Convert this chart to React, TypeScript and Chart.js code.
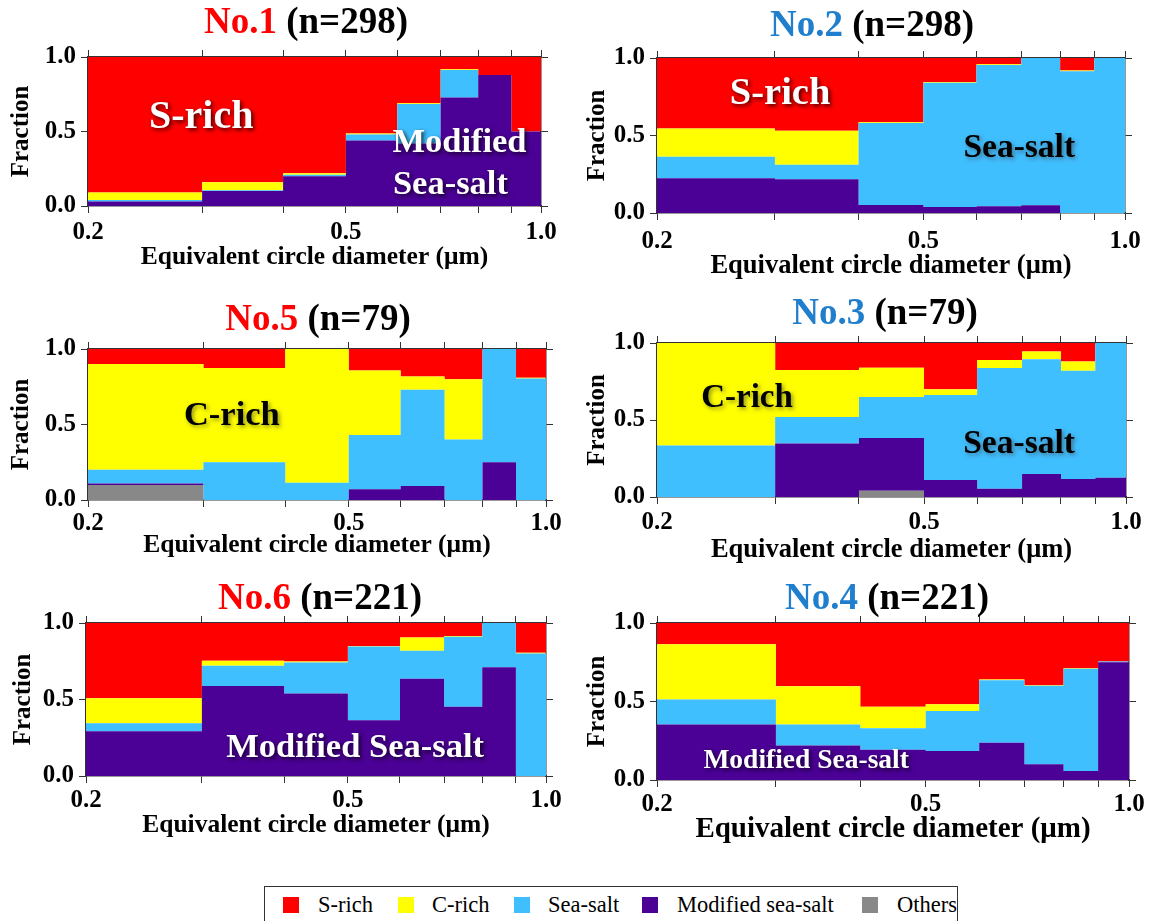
import React, { useEffect, useRef } from 'react';
import { Chart, registerables } from 'chart.js';
Chart.register(...registerables);

const SERIF = "'Liberation Serif', 'Times New Roman', serif";

const BIN_EDGES = [0.2, 0.3, 0.4, 0.5, 0.6, 0.7, 0.8, 0.9, 1.0];
const X_LABELED = [0.2, 0.5, 1.0];
const Y_TICKS = [0, 0.5, 1.0];

// stacking order, bottom to top
const CLASS_NAMES = ['Others', 'Modified sea-salt', 'Sea-salt', 'C-rich', 'S-rich'];
const CLASS_COLORS = ['#888888', '#4B0096', '#40BFFF', '#FFFF00', '#FF0000'];
const LEGEND_ORDER = [4, 3, 2, 1, 0];

// No.1 (n=298)
const NO1_OTHERS = [0, 0, 0, 0, 0, 0, 0, 0];
const NO1_MODIFIED = [0.03, 0.10, 0.20, 0.44, 0.42, 0.728, 0.88, 0.50];
const NO1_SEASALT = [0.01, 0.005, 0.01, 0.04, 0.264, 0.185, 0, 0];
const NO1_CRICH = [0.05, 0.055, 0.01, 0.006, 0.006, 0.005, 0, 0];
const NO1_SRICH = [0.91, 0.84, 0.78, 0.514, 0.31, 0.082, 0.12, 0.50];

// No.2 (n=298)
const NO2_OTHERS = [0, 0, 0, 0, 0, 0, 0, 0];
const NO2_MODIFIED = [0.224, 0.218, 0.051, 0.038, 0.043, 0.05, 0, 0];
const NO2_SEASALT = [0.139, 0.094, 0.529, 0.802, 0.912, 0.95, 0.915, 1.0];
const NO2_CRICH = [0.182, 0.218, 0.005, 0.005, 0.005, 0, 0.005, 0];
const NO2_SRICH = [0.455, 0.47, 0.415, 0.155, 0.04, 0, 0.08, 0];

// No.5 (n=79)
const NO5_OTHERS = [0.10, 0, 0, 0, 0, 0, 0, 0];
const NO5_MODIFIED = [0.01, 0, 0, 0.072, 0.092, 0, 0.25, 0];
const NO5_SEASALT = [0.09, 0.25, 0.114, 0.358, 0.638, 0.40, 0.75, 0.805];
const NO5_CRICH = [0.70, 0.625, 0.886, 0.427, 0.088, 0.40, 0, 0.005];
const NO5_SRICH = [0.10, 0.125, 0, 0.143, 0.182, 0.20, 0, 0.19];

// No.3 (n=79)
const NO3_OTHERS = [0, 0, 0.04, 0, 0, 0, 0, 0];
const NO3_MODIFIED = [0, 0.347, 0.343, 0.11, 0.053, 0.149, 0.117, 0.125];
const NO3_SEASALT = [0.334, 0.173, 0.267, 0.552, 0.785, 0.745, 0.703, 0.875];
const NO3_CRICH = [0.666, 0.305, 0.19, 0.038, 0.052, 0.051, 0.06, 0];
const NO3_SRICH = [0, 0.175, 0.16, 0.30, 0.11, 0.055, 0.12, 0];

// No.6 (n=221)
const NO6_OTHERS = [0, 0, 0, 0, 0, 0, 0, 0];
const NO6_MODIFIED = [0.293, 0.589, 0.54, 0.365, 0.635, 0.453, 0.711, 0];
const NO6_SEASALT = [0.051, 0.131, 0.202, 0.482, 0.183, 0.457, 0.289, 0.80];
const NO6_CRICH = [0.164, 0.033, 0.006, 0.003, 0.088, 0.005, 0, 0.005];
const NO6_SRICH = [0.492, 0.247, 0.252, 0.15, 0.094, 0.085, 0, 0.195];

// No.4 (n=221)
const NO4_OTHERS = [0, 0, 0, 0, 0, 0, 0, 0];
const NO4_MODIFIED = [0.354, 0.22, 0.193, 0.184, 0.237, 0.10, 0.057, 0.75];
const NO4_SEASALT = [0.159, 0.134, 0.137, 0.256, 0.399, 0.50, 0.651, 0.005];
const NO4_CRICH = [0.351, 0.243, 0.136, 0.043, 0.004, 0.003, 0.004, 0];
const NO4_SRICH = [0.136, 0.403, 0.534, 0.517, 0.36, 0.397, 0.288, 0.245];

const RED = '#FF0000';
const BLUE = '#1F7FCC';
const WHITE = '#FFFFFF';
const BLACK = '#000000';

type Note = { text: string; fx: number; fy: number; size: number; color: string };
type PanelCfg = {
  id: string; n: string; idColor: string;
  series: number[][];
  plot: { l: number; r: number; t: number; b: number };
  titleX: number; titleY: number; titleSize: number;
  fracX: number; fracSize: number;
  tickSize: number; tickPad: number;
  axisTitleY: number; axisSize: number;
  notes: Note[];
};

const PANELS: PanelCfg[] = [
  {
    id: 'No.1', n: '(n=298)', idColor: RED,
    series: [NO1_OTHERS, NO1_MODIFIED, NO1_SEASALT, NO1_CRICH, NO1_SRICH],
    plot: { l: 88, r: 541, t: 57, b: 206 },
    titleX: 306, titleY: 21, titleSize: 37,
    fracX: 22, fracSize: 25, tickSize: 25, tickPad: 5,
    axisTitleY: 258, axisSize: 25.5,
    notes: [
      { text: 'S-rich', fx: 0.25, fy: 0.41, size: 40, color: WHITE },
      { text: 'Modified', fx: 0.82, fy: 0.58, size: 34.5, color: WHITE },
      { text: 'Sea-salt', fx: 0.80, fy: 0.86, size: 34.5, color: WHITE },
    ],
  },
  {
    id: 'No.2', n: '(n=298)', idColor: BLUE,
    series: [NO2_OTHERS, NO2_MODIFIED, NO2_SEASALT, NO2_CRICH, NO2_SRICH],
    plot: { l: 657, r: 1125, t: 58, b: 213 },
    titleX: 872, titleY: 24, titleSize: 37,
    fracX: 598, fracSize: 25, tickSize: 25, tickPad: 7,
    axisTitleY: 266, axisSize: 26.5,
    notes: [
      { text: 'S-rich', fx: 0.263, fy: 0.23, size: 38.5, color: WHITE },
      { text: 'Sea-salt', fx: 0.774, fy: 0.58, size: 33.5, color: BLACK },
    ],
  },
  {
    id: 'No.5', n: '(n=79)', idColor: RED,
    series: [NO5_OTHERS, NO5_MODIFIED, NO5_SEASALT, NO5_CRICH, NO5_SRICH],
    plot: { l: 88, r: 546, t: 349, b: 500 },
    titleX: 318, titleY: 318, titleSize: 37,
    fracX: 22, fracSize: 25, tickSize: 25, tickPad: 2,
    axisTitleY: 546, axisSize: 25.5,
    notes: [
      { text: 'C-rich', fx: 0.314, fy: 0.445, size: 34.5, color: BLACK },
    ],
  },
  {
    id: 'No.3', n: '(n=79)', idColor: BLUE,
    series: [NO3_OTHERS, NO3_MODIFIED, NO3_SEASALT, NO3_CRICH, NO3_SRICH],
    plot: { l: 657, r: 1126, t: 343, b: 497 },
    titleX: 885, titleY: 312, titleSize: 37,
    fracX: 598, fracSize: 25, tickSize: 25, tickPad: 4,
    axisTitleY: 550, axisSize: 26.5,
    notes: [
      { text: 'C-rich', fx: 0.192, fy: 0.36, size: 33, color: BLACK },
      { text: 'Sea-salt', fx: 0.772, fy: 0.655, size: 33.5, color: BLACK },
    ],
  },
  {
    id: 'No.6', n: '(n=221)', idColor: RED,
    series: [NO6_OTHERS, NO6_MODIFIED, NO6_SEASALT, NO6_CRICH, NO6_SRICH],
    plot: { l: 86, r: 546, t: 623, b: 776 },
    titleX: 320, titleY: 597, titleSize: 37,
    fracX: 24, fracSize: 25, tickSize: 25, tickPad: 3,
    axisTitleY: 826, axisSize: 25.5,
    notes: [
      { text: 'Modified Sea-salt', fx: 0.585, fy: 0.82, size: 34.5, color: WHITE },
    ],
  },
  {
    id: 'No.4', n: '(n=221)', idColor: BLUE,
    series: [NO4_OTHERS, NO4_MODIFIED, NO4_SEASALT, NO4_CRICH, NO4_SRICH],
    plot: { l: 657, r: 1129, t: 623, b: 780 },
    titleX: 887, titleY: 597, titleSize: 37,
    fracX: 598, fracSize: 25, tickSize: 25, tickPad: 3,
    axisTitleY: 830, axisSize: 29,
    notes: [
      { text: 'Modified Sea-salt', fx: 0.316, fy: 0.88, size: 27.5, color: WHITE },
    ],
  },
];

const YW = 80;   // left axis box width
const YR = 24;   // right axis box width
const XT = 20;   // top axis box height
const FRAME = '#333333';

function Panel({ p }: { p: PanelCfg }) {
  const ref = useRef<HTMLCanvasElement | null>(null);
  const axLh = p.axisSize * 1.2;
  const XB = Math.round(p.axisTitleY - p.plot.b + axLh / 2 + 2);
  const width = p.plot.r - p.plot.l + YW + YR;
  const height = p.plot.b - p.plot.t + XT + XB;
  const left = p.plot.l - YW;
  const top = p.plot.t - XT;

  useEffect(() => {
    if (!ref.current) return;
    const datasets = CLASS_NAMES.map((name, k) => ({
      label: name,
      data: BIN_EDGES.map((x, i) => ({ x, y: p.series[k][Math.min(i, p.series[k].length - 1)] })),
      backgroundColor: CLASS_COLORS[k],
      borderColor: CLASS_COLORS[k],
      borderWidth: 0,
      pointRadius: 0,
      pointHoverRadius: 0,
      stepped: true,
      fill: k === 0 ? 'origin' : '-1',
      xAxisID: 'x',
      yAxisID: 'y',
    }));

    const notesPlugin = {
      id: 'notes',
      afterDatasetsDraw(chart: any) {
        const { ctx, chartArea: a } = chart;
        ctx.save();
        for (const n of p.notes) {
          const x = a.left + n.fx * (a.right - a.left);
          const y = a.top + n.fy * (a.bottom - a.top);
          ctx.font = `bold ${n.size}px ${SERIF}`;
          ctx.textAlign = 'center';
          ctx.textBaseline = 'middle';
          ctx.shadowColor = n.color === WHITE ? 'rgba(0,0,0,0.75)' : 'rgba(60,60,60,0.55)';
          ctx.shadowBlur = 4;
          ctx.shadowOffsetX = 2;
          ctx.shadowOffsetY = 2;
          ctx.fillStyle = n.color;
          ctx.fillText(n.text, x, y);
        }
        ctx.restore();
      },
    };

    const tickFont = { family: SERIF, size: p.tickSize, weight: 'bold' as const };
    const grid = { drawOnChartArea: false, drawTicks: true, tickLength: 7, color: FRAME, lineWidth: 1 };
    const border = { display: true, color: FRAME, width: 1.5 };
    const xTicks = (s: any) => { s.ticks = BIN_EDGES.map((v) => ({ value: v })); };
    const yTicks = (s: any) => { s.ticks = Y_TICKS.map((v) => ({ value: v })); };
    const fracLh = p.fracSize * 1.2;

    const chart = new Chart(ref.current, {
      type: 'line',
      data: { datasets } as any,
      options: {
        animation: false,
        responsive: false,
        devicePixelRatio: 1,
        layout: { padding: 0 },
        events: [],
        plugins: {
          legend: { display: false },
          tooltip: { enabled: false },
          title: { display: false },
        },
        scales: {
          x: {
            type: 'logarithmic', position: 'bottom', min: 0.2, max: 1.0,
            afterBuildTicks: xTicks,
            afterFit: (s: any) => { s.height = XB; },
            ticks: {
              autoSkip: false, maxRotation: 0, minRotation: 0, padding: p.tickPad, color: '#000', font: tickFont,
              callback: (v: any) => (X_LABELED.some((t) => Math.abs(t - Number(v)) < 1e-9) ? Number(v).toFixed(1) : ''),
            },
            grid, border,
            title: {
              display: true, text: 'Equivalent circle diameter (μm)', color: '#000',
              font: { family: SERIF, size: p.axisSize, weight: 'bold' }, padding: { top: 0, bottom: 2 },
            },
          },
          x2: {
            type: 'logarithmic', position: 'top', min: 0.2, max: 1.0,
            afterBuildTicks: xTicks,
            afterFit: (s: any) => { s.height = XT; },
            ticks: { display: false, autoSkip: false },
            grid, border,
          },
          y: {
            type: 'linear', position: 'left', min: 0, max: 1, stacked: true,
            afterBuildTicks: yTicks,
            afterFit: (s: any) => { s.width = YW; },
            ticks: { padding: 5, color: '#000', font: tickFont, callback: (v: any) => Number(v).toFixed(1) },
            grid, border,
            title: {
              display: true, text: 'Fraction', color: '#000',
              font: { family: SERIF, size: p.fracSize, weight: 'bold' },
              padding: { top: p.fracX - left - fracLh / 2, bottom: 0 },
            },
          },
          y2: {
            type: 'linear', position: 'right', min: 0, max: 1,
            afterBuildTicks: yTicks,
            afterFit: (s: any) => { s.width = YR; },
            ticks: { display: false },
            grid, border,
          },
        },
      } as any,
      plugins: [notesPlugin],
    });
    return () => chart.destroy();
  }, []);

  const fs = p.titleSize;
  return (
    <>
      <canvas
        ref={ref}
        width={width}
        height={height}
        style={{ position: 'absolute', left, top, width, height }}
      />
      <div
        style={{
          position: 'absolute', left: p.titleX - 300, width: 600, top: p.titleY - fs * 0.6,
          height: fs * 1.2, lineHeight: `${fs * 1.2}px`, textAlign: 'center',
          fontWeight: 'bold', fontSize: fs, fontFamily: SERIF, color: '#000', whiteSpace: 'nowrap',
        }}
      >
        <span style={{ color: p.idColor }}>{p.id}</span> {p.n}
      </div>
    </>
  );
}

const LEGEND_SWATCH_X = [283, 398, 514, 642, 862];
const LEGEND_TEXT_X = [318, 432, 548, 677, 897];

export default function App() {
  return (
    <div
      style={{
        position: 'absolute', left: 0, top: 0, width: 1150, height: 921,
        background: '#fff', overflow: 'hidden', fontFamily: SERIF,
      }}
    >
      {PANELS.map((p) => (
        <Panel key={p.id} p={p} />
      ))}
      <div
        style={{
          position: 'absolute', left: 264, top: 886, width: 694, height: 40,
          border: '1px solid #333', boxSizing: 'border-box',
        }}
      />
      {LEGEND_ORDER.map((k, i) => (
        <React.Fragment key={CLASS_NAMES[k]}>
          <div
            style={{
              position: 'absolute', left: LEGEND_SWATCH_X[i], top: 897, width: 16, height: 16,
              background: CLASS_COLORS[k],
            }}
          />
          <div
            style={{
              position: 'absolute', left: LEGEND_TEXT_X[i], top: 892, height: 26, lineHeight: '26px',
              fontSize: 22.5, fontFamily: SERIF, color: '#000', whiteSpace: 'nowrap',
            }}
          >
            {CLASS_NAMES[k]}
          </div>
        </React.Fragment>
      ))}
    </div>
  );
}
